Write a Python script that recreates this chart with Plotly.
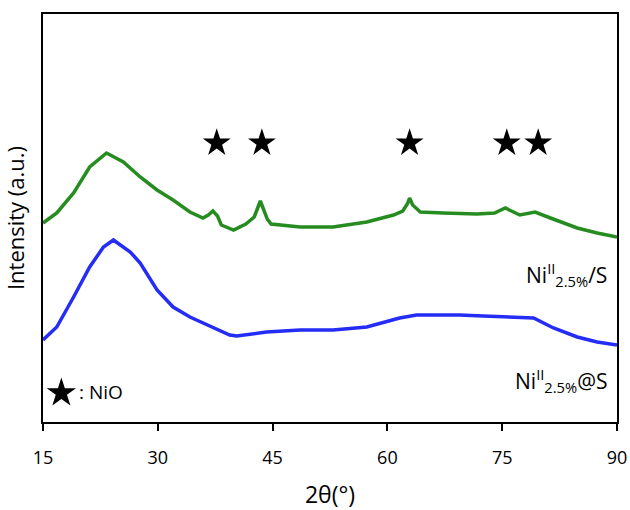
import plotly.graph_objects as go

# 2-theta positions (degrees) and read-off intensities (a.u., arbitrary offsets)
green_x = [15.0, 16.8, 19.0, 21.1, 23.3, 25.5, 27.7, 29.9, 32.0, 34.2, 35.9, 36.6, 37.2, 37.8, 38.3,
           39.9, 41.5, 42.6, 43.0, 43.4, 43.8, 44.3, 44.8, 48.6, 52.9, 57.3, 60.8, 62.0, 62.6, 62.9,
           63.3, 64.3, 67.3, 71.7, 74.0, 75.4, 77.3, 79.3, 81.3, 84.8, 87.4, 90.0]
green_y = [199, 209, 229, 255, 269, 260, 245, 232, 222, 210, 204, 207, 211, 206, 197,
           192, 198, 205, 213, 221, 213, 203, 198, 195, 195, 200, 207, 211, 218, 224,
           217, 210, 209, 208, 209, 214, 207, 210, 204, 194, 189, 185]

blue_x = [15.0, 16.8, 19.0, 21.1, 22.9, 24.2, 26.4, 27.7, 29.9, 32.0, 34.2, 36.4, 38.6, 39.4,
          40.3, 44.2, 48.6, 52.9, 57.3, 61.6, 63.8, 67.3, 69.4, 72.5, 76.0, 79.1, 81.7, 84.8,
          87.4, 90.0]
blue_y = [82, 95, 125, 155, 175, 182, 170, 159, 132, 115, 105, 97, 89, 87,
          86, 90, 92, 92, 95, 104, 107, 107, 107, 106, 105, 104, 94, 85,
          80, 77]

star_x = [37.7, 43.6, 62.9, 75.6, 79.7]
star_y = [279, 279, 279, 279, 279]

x_ticks = [15, 30, 45, 60, 75, 90]

FONT = "Open Sans"

fig = go.Figure()
fig.add_trace(go.Scatter(x=green_x, y=green_y, mode="lines",
                         line=dict(color="rgb(38,140,32)", width=3.5), showlegend=False))
fig.add_trace(go.Scatter(x=blue_x, y=blue_y, mode="lines",
                         line=dict(color="rgb(36,44,245)", width=3.5), showlegend=False))
fig.add_trace(go.Scatter(x=star_x, y=star_y, mode="markers",
                         marker=dict(symbol="star", size=21, color="black"), showlegend=False))
# key star
fig.add_trace(go.Scatter(x=[17.4], y=[29], mode="markers",
                         marker=dict(symbol="star", size=22, color="black"), showlegend=False))

fig.add_annotation(x=19.4, y=30, text=": NiO", showarrow=False, xanchor="left", yanchor="middle",
                   font=dict(family=FONT, size=19, color="black"))
fig.add_annotation(x=88.9, y=148, text="Ni<sup>II</sup><sub>2.5%</sub>/S", showarrow=False,
                   xanchor="right", yanchor="middle", font=dict(family=FONT, size=21, color="black"))
fig.add_annotation(x=88.9, y=42, text="Ni<sup>II</sup><sub>2.5%</sub>@S", showarrow=False,
                   xanchor="right", yanchor="middle", font=dict(family=FONT, size=21, color="black"))

fig.update_layout(
    width=630, height=510,
    margin=dict(l=43, r=13, t=14, b=88),
    paper_bgcolor="white", plot_bgcolor="white",
    font=dict(family=FONT, color="black"),
)
fig.update_xaxes(range=[15, 90], tickvals=x_ticks, ticks="outside", ticklen=7, tickwidth=1.5,
                 tickcolor="black", showline=True, linewidth=2, linecolor="black", mirror=True,
                 showgrid=False, zeroline=False, tickfont=dict(size=18, family=FONT),
                 ticklabelstandoff=11, automargin=False,
                 title=dict(text="2θ(°)", font=dict(size=23, family=FONT), standoff=20))
fig.update_yaxes(range=[0, 408], showticklabels=False, ticks="", showline=True, linewidth=2,
                 linecolor="black", mirror=True, showgrid=False, zeroline=False, automargin=False,
                 title=dict(text="Intensity (a.u.)", font=dict(size=22, family=FONT), standoff=12))

fig.write_html("out.html", config={"displayModeBar": False},
               post_script="document.body.style.margin='0';")
